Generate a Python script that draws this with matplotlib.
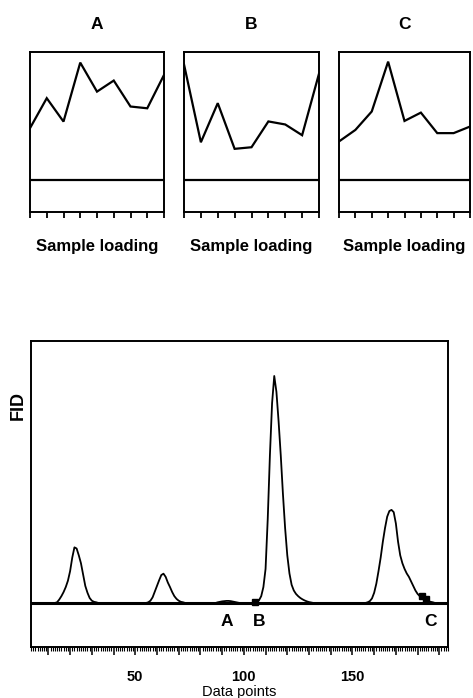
import matplotlib
matplotlib.use("Agg")
import matplotlib.pyplot as plt
from matplotlib.ticker import FixedLocator, MultipleLocator, NullFormatter

plt.rcParams['font.family'] = ['Liberation Sans', 'DejaVu Sans']

# ---- top panels: sample loading profiles ----
panel_titles = ["A", "B", "C"]
loading_A = [52.3, 71.0, 56.4, 93.2, 75.1, 82.0, 65.8, 64.7, 85.5]
loading_B = [92.1, 43.5, 67.9, 39.4, 40.4, 56.5, 54.6, 47.9, 86.3]
loading_C = [44.0, 51.2, 62.7, 93.8, 56.8, 62.0, 49.2, 49.2, 53.3]
loading_series = [loading_A, loading_B, loading_C]
loading_xlabel = "Sample loading"

# ---- bottom panel: FID chromatogram ----
fid_x = [2,
         13, 14, 15, 16, 17, 18, 19, 20, 21, 22, 23, 24, 25, 26, 27, 28, 29, 30, 31, 32, 33,
         55, 56, 57, 58, 59, 60, 61, 62, 63, 64, 65, 66, 67, 68, 69, 70, 71, 72, 73,
         87, 88, 89, 90, 91, 92, 93, 94, 95, 96, 97, 98,
         104, 105, 106, 107, 108, 109, 110, 111, 112, 113, 114, 115, 116, 117, 118, 119,
         120, 121, 122, 123, 124, 125, 126, 127, 128, 129, 130, 131, 132,
         156, 157, 158, 159, 160, 161, 162, 163, 164, 165, 166, 167, 168, 169, 170, 171,
         172, 173, 174, 175, 176, 177, 178, 179, 180, 181, 182, 183, 184, 185, 186, 187, 188,
         194]
fid_y = [0,
         0, 0.3, 1.5, 3, 4.8, 7, 9.8, 14, 20, 24.5, 24, 21, 17.5, 12.5, 7.5, 4.5, 2.2, 1, 0.5, 0.3, 0,
         0, 0.3, 1, 2.5, 5, 7.5, 10, 12.3, 12.9, 11.5, 9, 7, 4.8, 3, 1.8, 1, 0.5, 0.3, 0,
         0, 0.3, 0.5, 0.7, 0.8, 0.9, 0.9, 0.8, 0.6, 0.4, 0.2, 0,
         0, 0.2, 0.5, 1.2, 3, 7, 15, 37, 65, 88, 100, 93, 80, 65, 48, 33,
         21, 13, 8, 5.5, 4, 3, 2.2, 1.6, 1.1, 0.7, 0.4, 0.2, 0,
         0, 0.3, 0.8, 2, 4.5, 8.5, 14, 20, 27, 33, 38, 40.5, 41, 40, 35, 27,
         21, 17.5, 15, 13, 11.5, 9.5, 7.5, 5.5, 4, 3, 2.2, 1.5, 1, 0.7, 0.5, 0.3, 0,
         0]
marker_x = [105, 182, 184]
marker_y = [0.4, 3.0, 1.6]
fraction_labels = ["A", "B", "C"]
fraction_label_x = [92, 107, 186]
x_ticks_labeled = [50, 100, 150]
fid_ylabel = "FID"
fid_xlabel = "Data points"

W, H = 473, 698
fig = plt.figure(figsize=(W / 100, H / 100), dpi=100)

top_boxes = [(30, 164), (184, 319), (339, 470)]
top_y0, top_y1 = 51.7, 212
for (x0, x1), title, series in zip(top_boxes, panel_titles, loading_series):
    ax = fig.add_axes([x0 / W, (H - top_y1) / H, (x1 - x0) / W, (top_y1 - top_y0) / H])
    xs = list(range(len(series)))
    ax.plot(xs, series, color="black", lw=1.6, solid_joinstyle="miter")
    ax.axhline(20, color="black", lw=1.6)
    ax.set_xlim(0, len(series) - 1)
    ax.set_ylim(0, 100)
    ax.set_yticks([])
    ax.xaxis.set_major_locator(FixedLocator(xs))
    ax.xaxis.set_major_formatter(NullFormatter())
    ax.tick_params(axis="x", direction="out", length=4.5, width=1.3, color="black")
    for s in ax.spines.values():
        s.set_linewidth(1.4)
    ax.text(0.5, 1.167, title, transform=ax.transAxes, ha="center", va="center",
            fontsize=12.5, fontweight="bold")
    ax.text(0.5, -0.218, loading_xlabel, transform=ax.transAxes, ha="center", va="center",
            fontsize=12, fontweight="bold")

# bottom panel
bx0, bx1, by0, by1 = 31, 448, 341, 647
ax = fig.add_axes([bx0 / W, (H - by1) / H, (bx1 - bx0) / W, (by1 - by0) / H])
ax.axhline(0, color="black", lw=2.2)
ax.plot(fid_x, fid_y, color="black", lw=1.3)
ax.plot(marker_x, marker_y, linestyle="none", marker="s", markersize=4, color="black")
ax.set_xlim(2, 194)
ax.set_ylim(-19.4, 115.4)
ax.set_yticks([])
ax.xaxis.set_major_locator(MultipleLocator(10))
ax.xaxis.set_minor_locator(MultipleLocator(1))
ax.xaxis.set_major_formatter(
    matplotlib.ticker.FuncFormatter(lambda v, p: f"{int(round(v))}" if int(round(v)) in x_ticks_labeled else ""))
ax.tick_params(axis="x", which="major", direction="out", length=5.5, width=1.1, pad=11,
               labelsize=10.5)
ax.tick_params(axis="x", which="minor", direction="out", length=3, width=0.8)
for lbl in ax.get_xticklabels():
    lbl.set_fontweight("bold")
for s in ax.spines.values():
    s.set_linewidth(1.4)
for lab, lx in zip(fraction_labels, fraction_label_x):
    ax.text(lx, -8.2, lab, ha="center", va="center", fontsize=12.5, fontweight="bold")
ax.text(-0.031, 0.79, fid_ylabel, transform=ax.transAxes, rotation=90, ha="center",
        va="center", fontsize=13, fontweight="bold")
ax.text(0.5, (by1 - 692) / (by1 - by0), fid_xlabel, transform=ax.transAxes, ha="center",
        va="center", fontsize=10.5)

fig.savefig("out.png", dpi=100)
